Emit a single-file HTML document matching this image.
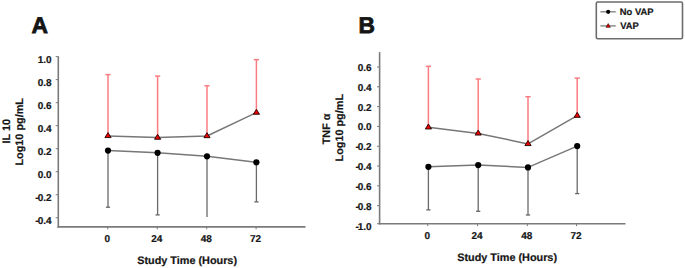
<!DOCTYPE html>
<html><head><meta charset="utf-8"><style>
html,body{margin:0;padding:0;background:#fff;overflow:hidden;}
svg{display:block;}
text{font-family:"Liberation Sans", sans-serif;font-weight:bold;text-rendering:geometricPrecision;stroke:#151515;stroke-width:0.2px;}
</style></head><body>
<svg width="685" height="268" viewBox="0 0 685 268">
<rect width="685" height="268" fill="#fff"/>
<g>
<line x1="58.30" y1="56.30" x2="58.30" y2="227.70" stroke="#7a7a7a" stroke-width="1.6"/>
<line x1="57.50" y1="226.90" x2="305.50" y2="226.90" stroke="#7a7a7a" stroke-width="1.6"/>
<line x1="55.70" y1="56.60" x2="58.30" y2="56.60" stroke="#7a7a7a" stroke-width="1"/>
<text x="51.6" y="63" font-size="10" text-anchor="end" fill="#151515">1.0</text>
<line x1="55.70" y1="79.62" x2="58.30" y2="79.62" stroke="#7a7a7a" stroke-width="1"/>
<text x="51.6" y="86" font-size="10" text-anchor="end" fill="#151515">0.8</text>
<line x1="55.70" y1="102.64" x2="58.30" y2="102.64" stroke="#7a7a7a" stroke-width="1"/>
<text x="51.6" y="109" font-size="10" text-anchor="end" fill="#151515">0.6</text>
<line x1="55.70" y1="125.66" x2="58.30" y2="125.66" stroke="#7a7a7a" stroke-width="1"/>
<text x="51.6" y="132" font-size="10" text-anchor="end" fill="#151515">0.4</text>
<line x1="55.70" y1="148.68" x2="58.30" y2="148.68" stroke="#7a7a7a" stroke-width="1"/>
<text x="51.6" y="155" font-size="10" text-anchor="end" fill="#151515">0.2</text>
<line x1="55.70" y1="171.70" x2="58.30" y2="171.70" stroke="#7a7a7a" stroke-width="1"/>
<text x="51.6" y="178" font-size="10" text-anchor="end" fill="#151515">0.0</text>
<line x1="55.70" y1="194.72" x2="58.30" y2="194.72" stroke="#7a7a7a" stroke-width="1"/>
<text x="51.6" y="201" font-size="10" text-anchor="end" fill="#151515">-<tspan dx="-1.0">0.2</tspan></text>
<line x1="55.70" y1="217.74" x2="58.30" y2="217.74" stroke="#7a7a7a" stroke-width="1"/>
<text x="51.6" y="224" font-size="10" text-anchor="end" fill="#151515">-<tspan dx="-1.0">0.4</tspan></text>
<line x1="107.70" y1="226.90" x2="107.70" y2="229.30" stroke="#7a7a7a" stroke-width="1"/>
<text x="107.2" y="242" font-size="10" text-anchor="middle" fill="#151515">0</text>
<line x1="157.30" y1="226.90" x2="157.30" y2="229.30" stroke="#7a7a7a" stroke-width="1"/>
<text x="156.79999999999998" y="242" font-size="10" text-anchor="middle" fill="#151515">24</text>
<line x1="206.70" y1="226.90" x2="206.70" y2="229.30" stroke="#7a7a7a" stroke-width="1"/>
<text x="206.2" y="242" font-size="10" text-anchor="middle" fill="#151515">48</text>
<line x1="256.10" y1="226.90" x2="256.10" y2="229.30" stroke="#7a7a7a" stroke-width="1"/>
<text x="255.59999999999997" y="242" font-size="10" text-anchor="middle" fill="#151515">72</text>
<line x1="108.00" y1="74.60" x2="108.00" y2="135.90" stroke="#fa7c82" stroke-width="1.5"/>
<line x1="105.40" y1="74.60" x2="110.60" y2="74.60" stroke="#fa7c82" stroke-width="1.5"/>
<line x1="157.60" y1="76.10" x2="157.60" y2="137.60" stroke="#fa7c82" stroke-width="1.5"/>
<line x1="155.00" y1="76.10" x2="160.20" y2="76.10" stroke="#fa7c82" stroke-width="1.5"/>
<line x1="207.00" y1="85.80" x2="207.00" y2="136.00" stroke="#fa7c82" stroke-width="1.5"/>
<line x1="204.40" y1="85.80" x2="209.60" y2="85.80" stroke="#fa7c82" stroke-width="1.5"/>
<line x1="256.40" y1="59.60" x2="256.40" y2="112.60" stroke="#fa7c82" stroke-width="1.5"/>
<line x1="253.80" y1="59.60" x2="259.00" y2="59.60" stroke="#fa7c82" stroke-width="1.5"/>
<line x1="108.00" y1="150.60" x2="108.00" y2="207.20" stroke="#6a6a6a" stroke-width="1.3"/>
<line x1="105.90" y1="207.20" x2="110.10" y2="207.20" stroke="#666" stroke-width="1.3"/>
<line x1="157.60" y1="152.80" x2="157.60" y2="214.90" stroke="#6a6a6a" stroke-width="1.3"/>
<line x1="155.50" y1="214.90" x2="159.70" y2="214.90" stroke="#666" stroke-width="1.3"/>
<line x1="207.00" y1="156.30" x2="207.00" y2="217.10" stroke="#6a6a6a" stroke-width="1.3"/>
<line x1="256.40" y1="162.30" x2="256.40" y2="201.90" stroke="#6a6a6a" stroke-width="1.3"/>
<line x1="254.30" y1="201.90" x2="258.50" y2="201.90" stroke="#666" stroke-width="1.3"/>
<polyline points="108.00,135.90 157.60,137.60 207.00,136.00 256.40,112.60" fill="none" stroke="#777777" stroke-width="1.5" stroke-linejoin="round"/>
<polyline points="108.00,150.60 157.60,152.80 207.00,156.30 256.40,162.30" fill="none" stroke="#777777" stroke-width="1.5" stroke-linejoin="round"/>
<polygon points="104.90,137.57 111.10,137.57 108.00,132.57" fill="#ee0000" stroke="#200000" stroke-width="0.9" stroke-linejoin="round"/>
<polygon points="154.50,139.27 160.70,139.27 157.60,134.27" fill="#ee0000" stroke="#200000" stroke-width="0.9" stroke-linejoin="round"/>
<polygon points="203.90,137.67 210.10,137.67 207.00,132.67" fill="#ee0000" stroke="#200000" stroke-width="0.9" stroke-linejoin="round"/>
<polygon points="253.30,114.27 259.50,114.27 256.40,109.27" fill="#ee0000" stroke="#200000" stroke-width="0.9" stroke-linejoin="round"/>
<circle cx="108.00" cy="150.60" r="3.1" fill="#000"/>
<circle cx="157.60" cy="152.80" r="3.1" fill="#000"/>
<circle cx="207.00" cy="156.30" r="3.1" fill="#000"/>
<circle cx="256.40" cy="162.30" r="3.1" fill="#000"/>
<text x="187.1" y="264" font-size="10.85" text-anchor="middle" fill="#151515">Study Time (Hours)</text>
<text x="10.0" y="131.3" font-size="10.85" text-anchor="middle" fill="#151515" transform="rotate(-90 10.0 131.3)">IL 10</text>
<text x="23.5" y="131.8" font-size="10.85" text-anchor="middle" fill="#151515" transform="rotate(-90 23.5 131.8)">Log10 pg/mL</text>
<text style="stroke-width:0.8px" x="31.5" y="33.4" font-size="22.8" text-anchor="start" fill="#151515">A</text>
<line x1="379.60" y1="52.10" x2="379.60" y2="224.50" stroke="#7a7a7a" stroke-width="1.6"/>
<line x1="378.80" y1="223.70" x2="625.50" y2="223.70" stroke="#7a7a7a" stroke-width="1.6"/>
<line x1="377.00" y1="67.00" x2="379.60" y2="67.00" stroke="#7a7a7a" stroke-width="1"/>
<text x="371.7" y="71" font-size="10" text-anchor="end" fill="#151515">0.6</text>
<line x1="377.00" y1="86.81" x2="379.60" y2="86.81" stroke="#7a7a7a" stroke-width="1"/>
<text x="371.7" y="91" font-size="10" text-anchor="end" fill="#151515">0.4</text>
<line x1="377.00" y1="106.62" x2="379.60" y2="106.62" stroke="#7a7a7a" stroke-width="1"/>
<text x="371.7" y="111" font-size="10" text-anchor="end" fill="#151515">0.2</text>
<line x1="377.00" y1="126.43" x2="379.60" y2="126.43" stroke="#7a7a7a" stroke-width="1"/>
<text x="371.7" y="130" font-size="10" text-anchor="end" fill="#151515">0.0</text>
<line x1="377.00" y1="146.24" x2="379.60" y2="146.24" stroke="#7a7a7a" stroke-width="1"/>
<text x="371.7" y="150" font-size="10" text-anchor="end" fill="#151515">-<tspan dx="-1.0">0.2</tspan></text>
<line x1="377.00" y1="166.05" x2="379.60" y2="166.05" stroke="#7a7a7a" stroke-width="1"/>
<text x="371.7" y="170" font-size="10" text-anchor="end" fill="#151515">-<tspan dx="-1.0">0.4</tspan></text>
<line x1="377.00" y1="185.86" x2="379.60" y2="185.86" stroke="#7a7a7a" stroke-width="1"/>
<text x="371.7" y="190" font-size="10" text-anchor="end" fill="#151515">-<tspan dx="-1.0">0.6</tspan></text>
<line x1="377.00" y1="205.67" x2="379.60" y2="205.67" stroke="#7a7a7a" stroke-width="1"/>
<text x="371.7" y="210" font-size="10" text-anchor="end" fill="#151515">-<tspan dx="-1.0">0.8</tspan></text>
<line x1="427.70" y1="223.70" x2="427.70" y2="226.10" stroke="#7a7a7a" stroke-width="1"/>
<text x="427.2" y="239" font-size="10" text-anchor="middle" fill="#151515">0</text>
<line x1="477.50" y1="223.70" x2="477.50" y2="226.10" stroke="#7a7a7a" stroke-width="1"/>
<text x="477.0" y="239" font-size="10" text-anchor="middle" fill="#151515">24</text>
<line x1="527.30" y1="223.70" x2="527.30" y2="226.10" stroke="#7a7a7a" stroke-width="1"/>
<text x="526.8" y="239" font-size="10" text-anchor="middle" fill="#151515">48</text>
<line x1="576.50" y1="223.70" x2="576.50" y2="226.10" stroke="#7a7a7a" stroke-width="1"/>
<text x="576.0" y="239" font-size="10" text-anchor="middle" fill="#151515">72</text>
<line x1="428.40" y1="66.30" x2="428.40" y2="127.30" stroke="#fa7c82" stroke-width="1.5"/>
<line x1="425.80" y1="66.30" x2="431.00" y2="66.30" stroke="#fa7c82" stroke-width="1.5"/>
<line x1="478.20" y1="79.00" x2="478.20" y2="133.40" stroke="#fa7c82" stroke-width="1.5"/>
<line x1="475.60" y1="79.00" x2="480.80" y2="79.00" stroke="#fa7c82" stroke-width="1.5"/>
<line x1="528.00" y1="96.70" x2="528.00" y2="143.90" stroke="#fa7c82" stroke-width="1.5"/>
<line x1="525.40" y1="96.70" x2="530.60" y2="96.70" stroke="#fa7c82" stroke-width="1.5"/>
<line x1="577.20" y1="78.10" x2="577.20" y2="115.70" stroke="#fa7c82" stroke-width="1.5"/>
<line x1="574.60" y1="78.10" x2="579.80" y2="78.10" stroke="#fa7c82" stroke-width="1.5"/>
<line x1="428.40" y1="166.80" x2="428.40" y2="209.90" stroke="#6a6a6a" stroke-width="1.3"/>
<line x1="426.30" y1="209.90" x2="430.50" y2="209.90" stroke="#666" stroke-width="1.3"/>
<line x1="478.20" y1="165.10" x2="478.20" y2="211.30" stroke="#6a6a6a" stroke-width="1.3"/>
<line x1="476.10" y1="211.30" x2="480.30" y2="211.30" stroke="#666" stroke-width="1.3"/>
<line x1="528.00" y1="167.40" x2="528.00" y2="215.00" stroke="#6a6a6a" stroke-width="1.3"/>
<line x1="525.90" y1="215.00" x2="530.10" y2="215.00" stroke="#666" stroke-width="1.3"/>
<line x1="577.20" y1="146.10" x2="577.20" y2="193.60" stroke="#6a6a6a" stroke-width="1.3"/>
<line x1="575.10" y1="193.60" x2="579.30" y2="193.60" stroke="#666" stroke-width="1.3"/>
<polyline points="428.40,127.30 478.20,133.40 528.00,143.90 577.20,115.70" fill="none" stroke="#777777" stroke-width="1.5" stroke-linejoin="round"/>
<polyline points="428.40,166.80 478.20,165.10 528.00,167.40 577.20,146.10" fill="none" stroke="#777777" stroke-width="1.5" stroke-linejoin="round"/>
<polygon points="425.30,128.97 431.50,128.97 428.40,123.97" fill="#ee0000" stroke="#200000" stroke-width="0.9" stroke-linejoin="round"/>
<polygon points="475.10,135.07 481.30,135.07 478.20,130.07" fill="#ee0000" stroke="#200000" stroke-width="0.9" stroke-linejoin="round"/>
<polygon points="524.90,145.57 531.10,145.57 528.00,140.57" fill="#ee0000" stroke="#200000" stroke-width="0.9" stroke-linejoin="round"/>
<polygon points="574.10,117.37 580.30,117.37 577.20,112.37" fill="#ee0000" stroke="#200000" stroke-width="0.9" stroke-linejoin="round"/>
<circle cx="428.40" cy="166.80" r="3.1" fill="#000"/>
<circle cx="478.20" cy="165.10" r="3.1" fill="#000"/>
<circle cx="528.00" cy="167.40" r="3.1" fill="#000"/>
<circle cx="577.20" cy="146.10" r="3.1" fill="#000"/>
<text x="507.1" y="261" font-size="10.85" text-anchor="middle" fill="#151515">Study Time (Hours)</text>
<text x="329.6" y="128.9" font-size="10.85" text-anchor="middle" fill="#151515" transform="rotate(-90 329.6 128.9)">TNF α</text>
<text x="343.3" y="127.7" font-size="10.85" text-anchor="middle" fill="#151515" transform="rotate(-90 343.3 127.7)">Log10 pg/mL</text>
<text style="stroke-width:0.8px" x="358.5" y="33.4" font-size="22.8" text-anchor="start" fill="#151515">B</text>
<line x1="377.00" y1="223.70" x2="379.60" y2="223.70" stroke="#7a7a7a" stroke-width="1"/><text x="371.7" y="230" font-size="10" text-anchor="end" fill="#151515">-<tspan dx="-1.0">1.0</tspan></text>

<rect x="596.3" y="2.0" width="86.2" height="36.7" rx="1.5" fill="#fff" stroke="#6c6c6c" stroke-width="1.6"/>
<line x1="600.40" y1="11.80" x2="615.80" y2="11.80" stroke="#7c7c7c" stroke-width="1.3"/>
<circle cx="608.2" cy="11.8" r="2.1" fill="#000"/>
<line x1="600.40" y1="25.90" x2="615.80" y2="25.90" stroke="#7c7c7c" stroke-width="1.3"/>
<polygon points="606.1,27.3 610.3,27.3 608.2,23.6" fill="#ee0000" stroke="#200000" stroke-width="0.6" stroke-linejoin="round"/>
<text x="619.8" y="15.0" font-size="9.4" text-anchor="start" fill="#151515">No VAP</text>
<text x="620.3" y="28.7" font-size="9.4" text-anchor="start" fill="#151515">VAP</text>

</g>
</svg>
</body></html>
